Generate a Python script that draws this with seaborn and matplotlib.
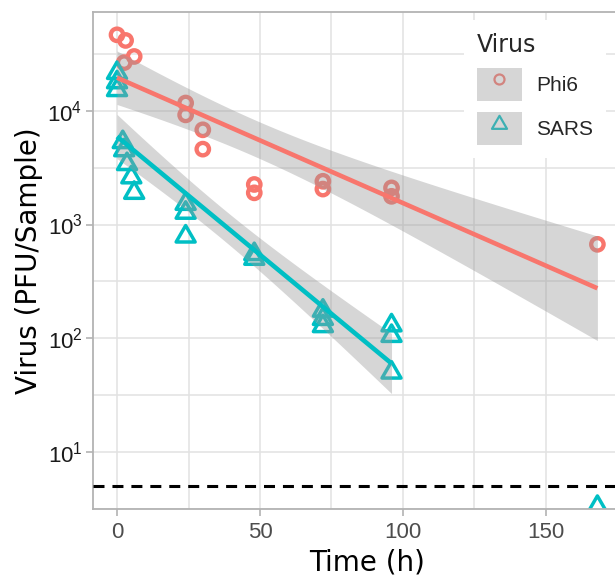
import numpy as np
import pandas as pd
import matplotlib
matplotlib.use("Agg")
import matplotlib.pyplot as plt
import seaborn as sns
from matplotlib.lines import Line2D
from matplotlib.patches import Patch
from matplotlib.path import Path
from matplotlib.font_manager import FontProperties

# ---------------- data ----------------
phi6_time = [0, 3, 6, 2.5, 24, 24, 30, 30, 48, 48, 72, 72, 96, 96, 168]
phi6_pfu = [46500, 41500, 30000, 26500, 11700, 9200, 6800, 4600,
            2250, 1900, 2400, 2050, 2100, 1770, 670]
sars_time = [0, 0, 0, 2, 2.5, 3.5, 5, 6, 24, 24, 24, 48, 48,
             72, 72, 72, 96, 96, 96]
sars_pfu = [21500, 17800, 15200, 5300, 4500, 3400, 2600, 1900,
            1520, 1270, 785, 550, 500, 175, 148, 128, 130, 105, 50]
sars_late_time = [168]
sars_late_pfu = [3.3]
lod_value = 5
virus_names = ["Phi6", "SARS"]
x_ticks = [0, 50, 100, 150]
y_tick_exps = [1, 2, 3, 4]

RED = "#F8766D"
TEAL = "#00BFC4"

sns.set_theme(style="white")
plt.rcParams["font.family"] = ["DejaVu Sans"]

fig = plt.figure(figsize=(6.15, 5.78), dpi=100)
W, H = 615, 578
ax = fig.add_axes([93 / W, (H - 509) / H, 549 / W, 497 / H])

tri = Path([(0, 1), (-0.866, -0.5), (0.866, -0.5), (0, 1)],
           [Path.MOVETO, Path.LINETO, Path.LINETO, Path.CLOSEPOLY])

df_phi = pd.DataFrame({"time": phi6_time, "log_pfu": np.log10(phi6_pfu)})
df_sars = pd.DataFrame({"time": sars_time, "log_pfu": np.log10(sars_pfu)})
df_sars_late = pd.DataFrame({"time": sars_late_time,
                             "log_pfu": np.log10(sars_late_pfu)})

# points
for df, mk, size, lw, col in [(df_phi, "o", 80, 3.1, RED),
                              (df_sars, tri, 250, 2.5, TEAL),
                              (df_sars_late, tri, 250, 2.5, TEAL)]:
    sns.scatterplot(data=df, x="time", y="log_pfu", marker=mk, s=size,
                    color=col, ax=ax, zorder=2, legend=False)
    c = ax.collections[-1]
    c.set_facecolor("none")
    c.set_edgecolor(col)
    c.set_linewidth(lw)


def lm_fit(df, n=80):
    """Ordinary least squares with a 95% t-based confidence band (like lm)."""
    x = df["time"].to_numpy(float)
    y = df["log_pfu"].to_numpy(float)
    b, a = np.polyfit(x, y, 1)
    resid = y - (a + b * x)
    dof = len(x) - 2
    s = np.sqrt(np.sum(resid ** 2) / dof)
    sxx = np.sum((x - x.mean()) ** 2)
    grid = np.linspace(x.min(), x.max(), n)
    fit = a + b * grid
    se = s * np.sqrt(1 / len(x) + (grid - x.mean()) ** 2 / sxx)
    # t quantile 0.975 for the given dof (table)
    tq = {13: 2.160, 17: 2.110}.get(dof, 2.1)
    return pd.DataFrame({"time": grid, "fit": fit,
                         "lo": fit - tq * se, "hi": fit + tq * se})


for df, col in [(df_phi, RED), (df_sars, TEAL)]:
    f = lm_fit(df)
    ax.fill_between(f["time"], f["lo"], f["hi"], color="#999999",
                    alpha=0.4, lw=0, zorder=3)
    sns.lineplot(data=f, x="time", y="fit", color=col, lw=3.3, ax=ax,
                 zorder=4)
    ax.lines[-1].set_solid_capstyle("butt")

# limit of detection
ax.axhline(np.log10(lod_value), color="black", lw=2.2,
           ls=(0, (3.6, 2.6)), zorder=5)

# axes
ax.set_xlim(-8.4, 183.6)
ax.set_ylim(0.509, 4.868)
ax.set_xticks(x_ticks)
ax.set_xticks([25, 75, 125, 175], minor=True)
ax.set_yticks(y_tick_exps)
ax.set_yticks([0.5, 1.5, 2.5, 3.5, 4.5], minor=True)
ax.set_yticklabels([r"$\mathregular{10^{%d}}$" % e for e in y_tick_exps])
ax.grid(which="both", color="#E2E2E2", lw=1.1)
ax.set_axisbelow(True)
for s in ["top", "left", "bottom"]:
    ax.spines[s].set_color("#B3B3B3")
    ax.spines[s].set_linewidth(1.3)
ax.spines["right"].set_visible(False)
ax.tick_params(which="major", length=5, width=1.2, color="#B3B3B3",
               labelsize=16, pad=2.5, left=True, bottom=True)
ax.tick_params(axis="x", which="major", pad=4)
ax.tick_params(which="minor", length=0)
for t in ax.get_xticklabels():
    t.set_fontfamily("Liberation Sans")
    t.set_color("#4D4D4D")
for t in ax.get_yticklabels():
    t.set_fontfamily("Liberation Sans")
    t.set_color("#1A1A1A")

ax.set_xlabel("Time (h)", fontsize=20, family="DejaVu Sans", color="black")
ax.set_ylabel("Virus (PFU/Sample)", fontsize=20, family="DejaVu Sans",
              color="black")
ax.xaxis.set_label_coords((367.5 - 93) / 549, (509 - 549) / 497)
ax.yaxis.set_label_coords((43 - 93) / 549, 0.5)

# legend
box = Patch(facecolor="#D6D6D6", edgecolor="none")
h1 = (box, Line2D([], [], ls="none", marker="o", ms=7.2, mew=1.6,
                  mfc="none", mec="#D2847F"))
h2 = (box, Line2D([], [], ls="none", marker=tri, ms=12.5, mew=1.6,
                  mfc="none", mec="#3DB0B3"))
leg = ax.legend([h1, h2], virus_names, title="Virus",
                loc="upper left", bbox_to_anchor=(464 / W, 1 - 20 / H),
                bbox_transform=fig.transFigure,
                prop=FontProperties(family="Liberation Sans", size=15),
                title_fontproperties=FontProperties(family="DejaVu Sans",
                                                    size=17),
                alignment="left", frameon=True, fancybox=False,
                facecolor="white", edgecolor="none", framealpha=1,
                handlelength=2.16, handleheight=2.06, labelspacing=0.55,
                handletextpad=0.7, borderpad=0.6, borderaxespad=0)
leg.set_zorder(10)

fig.savefig("out.png", dpi=100)
